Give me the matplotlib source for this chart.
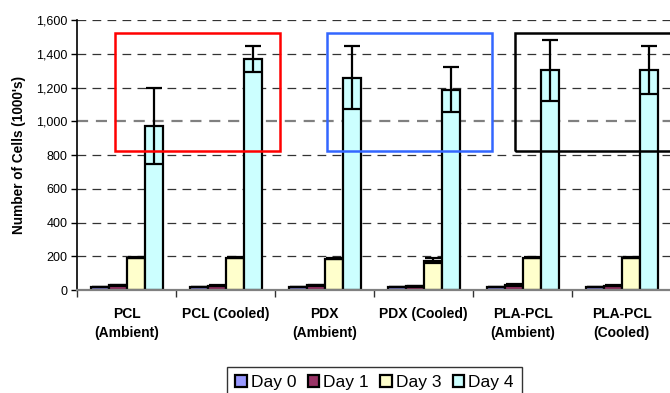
import matplotlib
matplotlib.use("Agg")
import matplotlib.pyplot as plt
from matplotlib.patches import Rectangle, Patch
from matplotlib.ticker import FuncFormatter, FixedLocator
import numpy as np

plt.rcParams['font.family'] = ['Liberation Sans', 'DejaVu Sans']

categories = ["PCL\n(Ambient)", "PCL (Cooled)", "PDX\n(Ambient)", "PDX (Cooled)",
              "PLA-PCL\n(Ambient)", "PLA-PCL\n(Cooled)"]
series = ["Day 0", "Day 1", "Day 3", "Day 4"]
day0 = [18, 17, 18, 16, 17, 16]
day1 = [28, 25, 28, 22, 30, 25]
day3 = [190, 190, 186, 175, 190, 190]
day4 = [970, 1370, 1258, 1187, 1302, 1304]
err0 = [0, 0, 0, 0, 0, 0]
err1 = [4, 3, 4, 3, 4, 3]
err3 = [3, 3, 4, 12, 3, 3]
err4 = [225, 75, 186, 133, 179, 142]
colors = ["#9999FF", "#993366", "#FFFFCC", "#CCFFFF"]

values = [day0, day1, day3, day4]
errors = [err0, err1, err3, err4]

fig = plt.figure(figsize=(6.7, 3.93), dpi=100)
ax = fig.add_axes([0.115, 0.262, 0.887, 0.687])

x = np.arange(len(categories))
w = 0.182
for i, (vals, errs, c) in enumerate(zip(values, errors, colors)):
    pos = x + (i - 1.5) * w
    ax.bar(pos, vals, width=w, color=c, edgecolor="black", linewidth=1.6, zorder=3)
    ax.errorbar(pos, vals, yerr=errs, fmt="none", ecolor="black", elinewidth=1.6,
                capsize=6, capthick=1.6, zorder=4)

ax.set_xlim(-0.5, len(categories) - 0.5)
ax.set_ylim(0, 1600)
ax.set_yticks(np.arange(0, 1601, 200))
ax.yaxis.set_major_formatter(FuncFormatter(lambda v, p: f"{int(v):,}"))
for yv in np.arange(200, 1601, 200):
    if yv == 1000:
        ax.axhline(yv, color="#808080", lw=1.6, ls=(0, (5, 3.5)), zorder=1)
    else:
        ax.axhline(yv, color="#333333", lw=0.9, ls=(0, (7, 5)), zorder=1)

# x ticks at boundaries, labels at centers
ax.xaxis.set_major_locator(FixedLocator(np.arange(-0.5, len(categories) + 0.5, 1)))
ax.xaxis.set_major_formatter(FuncFormatter(lambda v, p: ""))
ax.xaxis.set_minor_locator(FixedLocator(x))
ax.set_xticklabels(categories, minor=True, fontweight="bold", fontsize=10,
                   linespacing=1.45)
ax.tick_params(axis="x", which="major", length=5, width=1, color="#333333", direction="out")
ax.tick_params(axis="x", which="minor", length=0, pad=12)
ax.tick_params(axis="y", length=4, width=1, labelsize=9, pad=3, colors="black")

for s in ["top", "right"]:
    ax.spines[s].set_visible(False)
ax.spines["left"].set_linewidth(1.2)
ax.spines["left"].set_color("black")
ax.spines["bottom"].set_color("#808080")
ax.spines["bottom"].set_linewidth(1.6)
ax.spines["bottom"].set_zorder(5)

ax.set_ylabel("Number of Cells (1000's)", fontweight="bold", fontsize=9.8, labelpad=7)

# highlight boxes
boxes = [(-0.116, 1.55, "#FF0000"), (2.025, 3.69, "#3366FF"), (3.924, 5.59, "black")]
for x0, x1, ec in boxes:
    r = Rectangle((x0, 825), x1 - x0, 1523 - 825, fill=False, edgecolor=ec,
                  linewidth=1.8, zorder=6, clip_on=False)
    ax.add_patch(r)

handles = [Patch(facecolor=c, edgecolor="black", linewidth=1.6, label=s)
           for c, s in zip(colors, series)]
leg = fig.legend(handles=handles, loc="upper center", bbox_to_anchor=(0.559, 0.066),
                 ncol=4, fontsize=12.5, frameon=True, fancybox=False, shadow=False,
                 handlelength=0.65, handleheight=0.65, handletextpad=0.25,
                 columnspacing=0.65, borderpad=0.45, borderaxespad=0)
leg.get_frame().set_edgecolor("black")
leg.get_frame().set_linewidth(1.0)

fig.savefig("out.png", dpi=100)
